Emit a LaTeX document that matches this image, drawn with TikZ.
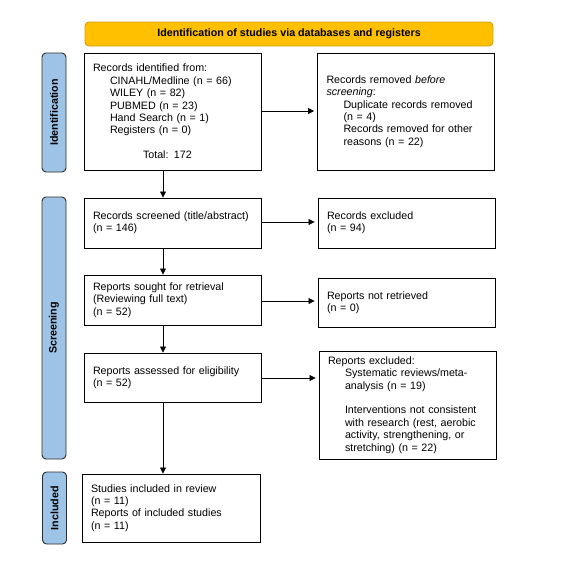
\documentclass[tikz,border=0pt]{standalone}
\usepackage{fontspec}
\setmainfont{Liberation Sans}
\usetikzlibrary{arrows.meta}
\definecolor{hdrfill}{RGB}{255,192,0}
\definecolor{hdrdraw}{RGB}{214,160,20}
\definecolor{sidefill}{RGB}{157,195,230}
\definecolor{sidedraw}{RGB}{45,45,45}
\tikzset{
  box/.style={draw=black, line width=0.9pt, fill=white, align=left, anchor=center,
    inner xsep=9pt, inner ysep=0pt, font=\fontsize{10.7}{12.4}\selectfont},
  sidebar/.style={draw=sidedraw, fill=sidefill, line width=0.9pt, rounded corners=4pt,
    inner sep=0pt, anchor=center},
  sidelabel/.style={rotate=90, font=\fontsize{10.7}{12.4}\selectfont\bfseries, anchor=center},
  conn/.style={line width=0.8pt, -{Triangle[length=6pt,width=6pt]}},
  hconn/.style={conn, shorten >=3pt}
}
\newcommand{\ind}{\hspace*{17pt}}
\begin{document}
\begin{tikzpicture}[x=1pt,y=-1pt]
\useasboundingbox (0,0) rectangle (572,570);
% header
\node[draw=hdrdraw, fill=hdrfill, line width=0.9pt, rounded corners=4pt,
  minimum width=408pt, minimum height=24pt, inner sep=0pt,
  font=\fontsize{10.7}{12.4}\selectfont\bfseries] (hdr) at (289,34)
  {Identification of studies via databases and registers};
% sidebars
\node[sidebar, minimum width=24pt, minimum height=119pt] (sid) at (54,112.5) {};
\node[sidelabel] (sidl) at (sid.center) {Identification};
\node[sidebar, minimum width=24pt, minimum height=262pt] (sscr) at (54,328) {};
\node[sidelabel] (sscrl) at (sscr.center) {Screening};
\node[sidebar, minimum width=24pt, minimum height=72pt] (sinc) at (54.5,508) {};
\node[sidelabel] (sincl) at (sinc.center) {Included};
% left column
\node[box, text width=159pt, minimum height=117pt] (ident) at (172.5,111.5)
  {Records identified from:\\
   \ind CINAHL/Medline (n = 66)\\
   \ind WILEY (n = 82)\\
   \ind PUBMED (n = 23)\\
   \ind Hand Search (n = 1)\\
   \ind Registers (n = 0)\\
   ~\\
   \hspace*{50pt}Total: 172};
\node[box, text width=159pt, minimum height=50pt] (scr) at (172.5,223)
  {Records screened (title/abstract)\\(n = 146)};
\node[box, text width=159pt, minimum height=50pt] (sought) at (172.5,300)
  {Reports sought for retrieval\\(Reviewing full text)\\(n = 52)};
\node[box, text width=159pt, minimum height=49pt] (assess) at (172.5,377.5)
  {Reports assessed for eligibility\\(n = 52)};
\node[box, text width=160pt, minimum height=68pt] (incl) at (171,508)
  {Studies included in review\\(n = 11)\\Reports of included studies\\(n = 11)};
% right column
\node[box, text width=159pt, minimum height=117pt] (removed) at (406,111.5)
  {Records removed \textit{before}\\
   \textit{screening}:\\
   \ind Duplicate records removed\\
   \ind (n = 4)\\
   \ind Records removed for other\\
   \ind reasons (n = 22)};
\node[box, text width=159pt, minimum height=50pt] (excl) at (406.5,223)
  {Records excluded\\(n = 94)};
\node[box, text width=159pt, minimum height=49pt] (notret) at (406.5,302.5)
  {Reports not retrieved\\(n = 0)};
\node[box, text width=159pt, minimum height=108pt] (repex) at (407.5,405)
  {Reports excluded:\\
   \ind Systematic reviews/meta-\\
   \ind analysis (n = 19)\\
   ~\\
   \ind Interventions not consistent\\
   \ind with research (rest, aerobic\\
   \ind activity, strengthening, or\\
   \ind stretching) (n = 22)};
% connectors
\draw[hconn] (ident.east |- 0,111) -- (removed.west |- 0,111);
\draw[hconn] (scr.east |- 0,222) -- (excl.west |- 0,222);
\draw[hconn] (sought.east |- 0,301) -- (notret.west |- 0,301);
\draw[hconn] (assess.east |- 0,378) -- (repex.west |- 0,378);
\draw[conn] (ident.south -| 163,0) -- (scr.north -| 163,0);
\draw[conn] (scr.south -| 163,0) -- (sought.north -| 163,0);
\draw[conn] (sought.south -| 163,0) -- (assess.north -| 163,0);
\draw[conn] (assess.south -| 163,0) -- (incl.north -| 163,0);
\end{tikzpicture}
\end{document}
